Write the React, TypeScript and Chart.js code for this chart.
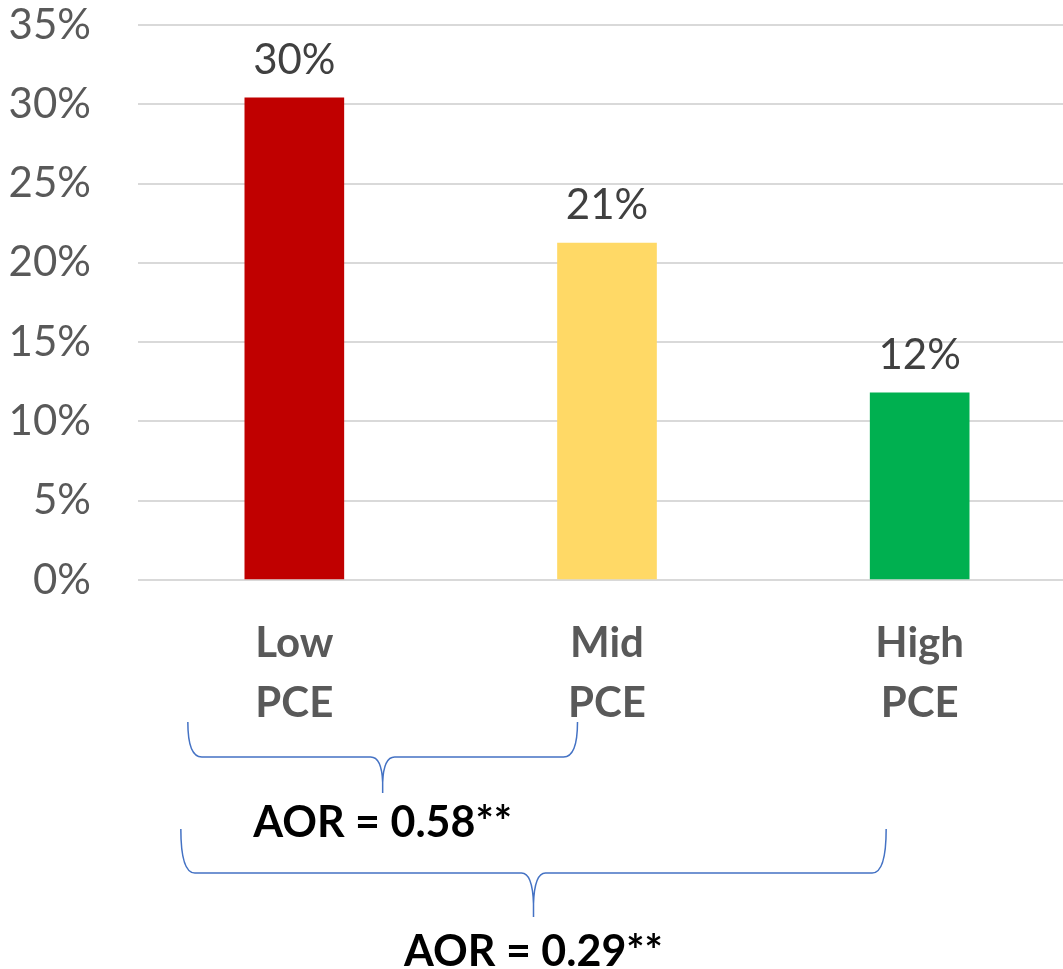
import React, { useEffect, useRef } from "react";
import { Chart, registerables } from "chart.js";

Chart.register(...registerables);

const categories: string[][] = [["Low", "PCE"], ["Mid", "PCE"], ["High", "PCE"]];
const values: number[] = [30.4, 21.25, 11.8];
const valueLabels: string[] = ["30%", "21%", "12%"];
const barColors: string[] = ["#C00000", "#FFD966", "#00B050"];
const yTicks: number[] = [0, 5, 10, 15, 20, 25, 30, 35];
const braceLabels: string[] = ["AOR = 0.58**", "AOR = 0.29**"];

const FONT = "Lato, 'Open Sans', sans-serif";

const valueLabelPlugin = {
  id: "valueLabels",
  afterDatasetsDraw(chart: any) {
    const ctx = chart.ctx;
    const meta = chart.getDatasetMeta(0);
    ctx.save();
    ctx.font = `42px ${FONT}`;
    ctx.fillStyle = "#404040";
    ctx.textAlign = "center";
    ctx.textBaseline = "alphabetic";
    meta.data.forEach((bar: any, i: number) => {
      ctx.fillText(valueLabels[i], bar.x, bar.y - 24);
    });
    ctx.restore();
  },
};

function drawBrace(ctx: CanvasRenderingContext2D, x1: number, x2: number, yTop: number, yMid: number, yTip: number) {
  const mid = (x1 + x2) / 2;
  const r = 14;
  ctx.beginPath();
  ctx.moveTo(x1, yTop);
  ctx.quadraticCurveTo(x1, yMid, x1 + r, yMid);
  ctx.lineTo(mid - 12, yMid);
  ctx.quadraticCurveTo(mid - 1, yMid, mid, yTip - (yTip - yMid) * 0.3);
  ctx.lineTo(mid, yTip);
  ctx.moveTo(mid, yTip - (yTip - yMid) * 0.3);
  ctx.quadraticCurveTo(mid + 1, yMid, mid + 12, yMid);
  ctx.lineTo(x2 - r, yMid);
  ctx.quadraticCurveTo(x2, yMid, x2, yTop);
  ctx.stroke();
}

const bracePlugin = {
  id: "braces",
  afterDraw(chart: any) {
    const ctx = chart.ctx;
    const xs = chart.scales.x;
    const c0 = xs.getPixelForValue(0);
    const c1 = xs.getPixelForValue(1);
    const c2 = xs.getPixelForValue(2);
    ctx.save();
    ctx.strokeStyle = "#4472C4";
    ctx.lineWidth = 1.5;
    drawBrace(ctx, c0 - 106.5, c1 - 29.5, 722, 757, 793);
    drawBrace(ctx, c0 - 113.5, c2 - 33.5, 829, 873, 917);
    ctx.font = `bold 43px ${FONT}`;
    ctx.fillStyle = "#000000";
    ctx.textAlign = "center";
    ctx.textBaseline = "alphabetic";
    ctx.fillText(braceLabels[0], (c0 - 106.5 + c1 - 29.5) / 2, 837);
    ctx.fillText(braceLabels[1], (c0 - 113.5 + c2 - 33.5) / 2, 966);
    ctx.restore();
  },
};

export default function App() {
  const ref = useRef<HTMLCanvasElement>(null);
  useEffect(() => {
    document.body.style.margin = "0";
    document.body.style.overflow = "hidden";
    const canvas = ref.current!;
    const chart = new Chart(canvas, {
      type: "bar",
      data: {
        labels: categories,
        datasets: [
          {
            data: values,
            backgroundColor: barColors,
            borderWidth: 0,
            barThickness: 99,
          },
        ],
      },
      options: {
        responsive: false,
        animation: false,
        layout: { padding: { top: 25, right: 0, bottom: 0, left: 0 } },
        plugins: { legend: { display: false }, tooltip: { enabled: false } },
        scales: {
          y: {
            min: 0,
            max: 35,
            afterFit(scale: any) {
              scale.width = 138;
              scale.paddingTop = 0;
              scale.paddingBottom = 0;
            },
            afterBuildTicks(scale: any) {
              scale.ticks = yTicks.map((v) => ({ value: v }));
            },
            border: { display: false },
            grid: { color: "#D9D9D9", lineWidth: 2, drawTicks: false },
            ticks: {
              padding: 47,
              color: "#595959",
              font: { family: FONT, size: 42, lineHeight: 1 },
              callback: (v: any) => `${v}%`,
            },
          },
          x: {
            afterFit(scale: any) {
              scale.height = 389;
            },
            border: { display: false },
            grid: { display: false, drawTicks: false },
            ticks: {
              padding: 33,
              color: "#595959",
              maxRotation: 0,
              autoSkip: false,
              font: { family: FONT, size: 42, weight: "bold", lineHeight: 1.43 },
            },
          },
        },
      },
      plugins: [valueLabelPlugin, bracePlugin],
    });
    return () => chart.destroy();
  }, []);
  return (
    <div style={{ width: 1076, height: 969, position: "relative" }}>
      <canvas ref={ref} width={1076} height={969} style={{ display: "block" }} />
    </div>
  );
}
